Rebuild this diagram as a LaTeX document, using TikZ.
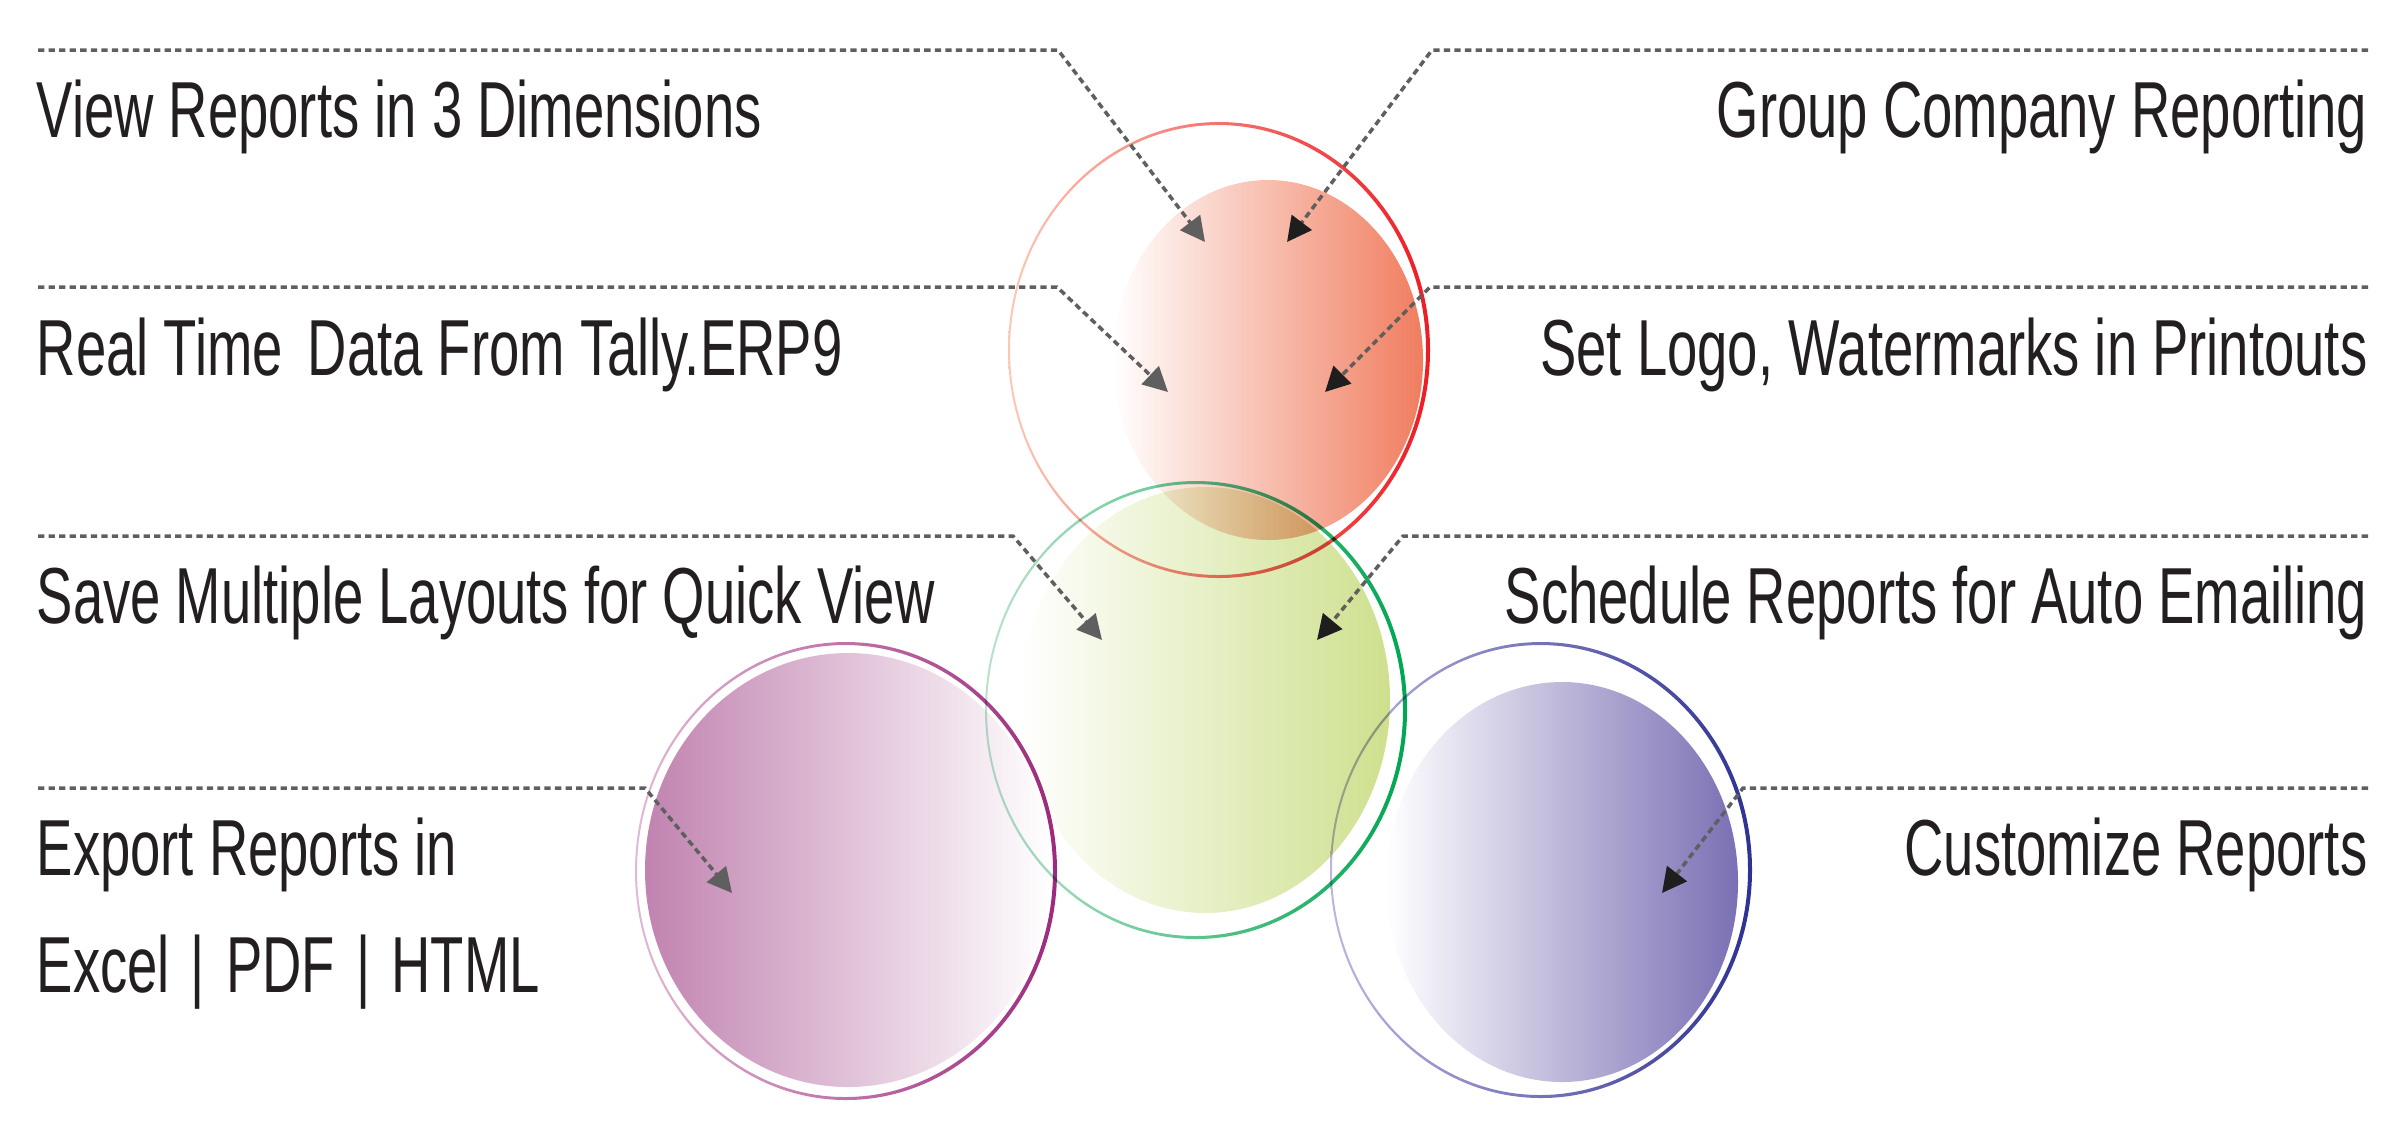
\documentclass[tikz,border=0pt]{standalone}
\usepackage{fontspec}
\setmainfont[FakeStretch=0.685]{Liberation Sans}
\usetikzlibrary{arrows.meta}

\definecolor{txtgray}{RGB}{35,31,32}
\definecolor{leadgray}{RGB}{95,95,95}
\definecolor{tipgray}{RGB}{95,95,95}
\definecolor{tipblack}{RGB}{30,30,30}
% rings: light, middle, dark
\definecolor{redL}{RGB}{252,200,182}
\definecolor{redM}{RGB}{246,160,135}
\definecolor{redD}{RGB}{237,28,36}
\definecolor{greenL}{RGB}{185,227,204}
\definecolor{greenM}{RGB}{140,208,170}
\definecolor{greenD}{RGB}{0,166,81}
\definecolor{plumL}{RGB}{225,185,213}
\definecolor{plumM}{RGB}{200,130,180}
\definecolor{plumD}{RGB}{157,42,125}
\definecolor{blueL}{RGB}{188,182,223}
\definecolor{blueM}{RGB}{140,132,198}
\definecolor{blueD}{RGB}{46,49,146}
% discs
\definecolor{redF}{RGB}{240,125,95}
\definecolor{greenF}{RGB}{206,224,142}
\definecolor{plumF}{RGB}{193,131,176}
\definecolor{blueF}{RGB}{122,112,180}

\tikzset{
  lbl/.style={inner sep=0pt, text=txtgray, font=\fontsize{22.6}{27}\selectfont},
  leader/.style={draw=leadgray, line width=1pt, dash pattern=on 1.8pt off 1.2pt},
  tipl/.style={-{Triangle[length=7pt,width=7pt,color=tipgray]}},
  tipr/.style={-{Triangle[length=7pt,width=7pt,color=tipblack]}},
}

\begin{document}
\begin{tikzpicture}[x=0.01cm, y=-0.01cm]
    \useasboundingbox (0,0) rectangle (2389,1120);

    \begin{scope}[blend mode=multiply]
      % discs
      \shade[left color=white, right color=redF] (1268,360) ellipse (155 and 180);
      \shade[left color=white, right color=greenF] (1205,700) ellipse (185 and 213);
      \shade[left color=plumF, right color=white] (848,870) ellipse (203 and 217);
      \shade[left color=white, right color=blueF] (1562,882) ellipse (176 and 200);

      % rings
      \shade[left color=redL, middle color=redM, right color=redD, even odd rule]
        (1219,350) ellipse (211 and 228) (1218,350) ellipse (208 and 225);
      \shade[left color=greenL, middle color=greenM, right color=greenD, even odd rule]
        (1196,710) ellipse (211 and 229) (1195,710) ellipse (208 and 226);
      \shade[left color=plumL, middle color=plumM, right color=plumD, even odd rule]
        (846,871) ellipse (211 and 229) (845,871) ellipse (208 and 226);
      \shade[left color=blueL, middle color=blueM, right color=blueD, even odd rule]
        (1541,870) ellipse (211 and 228) (1540,870) ellipse (208 and 225);
    \end{scope}

    % labels
    \node[lbl, anchor=base west] (dims) at (36,137) {View Reports in 3 Dimensions};
    \node[lbl, anchor=base east] (group) at (2368,137) {Group Company Reporting};
    \node[lbl, anchor=base west] (tally) at (36,375) {Real Time\ \kern0.1cm Data From Tally.ERP9};
    \node[lbl, anchor=base east] (logo) at (2368,375) {Set Logo, Watermarks in Printouts};
    \node[lbl, anchor=base west] (layout) at (36,623) {Save Multiple Layouts for Quick View};
    \node[lbl, anchor=base east] (mail) at (2368,623) {Schedule Reports for Auto Emailing};
    \node[lbl, anchor=base west] (export) at (36,875) {Export Reports in};
    \node[lbl, anchor=base west] (formats) at (36,992) {Excel\ \kern0.06cm|\ \kern0.06cm PDF\ \kern0.06cm|\ \kern0.06cm HTML};
    \node[lbl, anchor=base east] (custom) at (2368,875) {Customize Reports};

    % leader ends
    \coordinate (dimsS) at (38,50);
    \coordinate (dimsC) at (1058,50);
    \coordinate (dimsT) at (1205,242);
    \coordinate (groupS) at (2368,50);
    \coordinate (groupC) at (1432,50);
    \coordinate (groupT) at (1287,242);
    \coordinate (tallyS) at (38,287);
    \coordinate (tallyC) at (1057,287);
    \coordinate (tallyT) at (1168,392);
    \coordinate (logoS) at (2368,287);
    \coordinate (logoC) at (1430,287);
    \coordinate (logoT) at (1325,392);
    \coordinate (layoutS) at (38,536);
    \coordinate (layoutC) at (1013,536);
    \coordinate (layoutT) at (1102,640);
    \coordinate (mailS) at (2368,536);
    \coordinate (mailC) at (1403,536);
    \coordinate (mailT) at (1317,640);
    \coordinate (exportS) at (38,788);
    \coordinate (exportC) at (645,788);
    \coordinate (exportT) at (732,893);
    \coordinate (customS) at (2368,788);
    \coordinate (customC) at (1743,788);
    \coordinate (customT) at (1662,893);

    \draw[leader, tipl] (dimsS) -- (dimsC) -- (dimsT);
    \draw[leader, tipr] (groupS) -- (groupC) -- (groupT);
    \draw[leader, tipl] (tallyS) -- (tallyC) -- (tallyT);
    \draw[leader, tipr] (logoS) -- (logoC) -- (logoT);
    \draw[leader, tipl] (layoutS) -- (layoutC) -- (layoutT);
    \draw[leader, tipr] (mailS) -- (mailC) -- (mailT);
    \draw[leader, tipl] (exportS) -- (exportC) -- (exportT);
    \draw[leader, tipr] (customS) -- (customC) -- (customT);
\end{tikzpicture}
\end{document}
